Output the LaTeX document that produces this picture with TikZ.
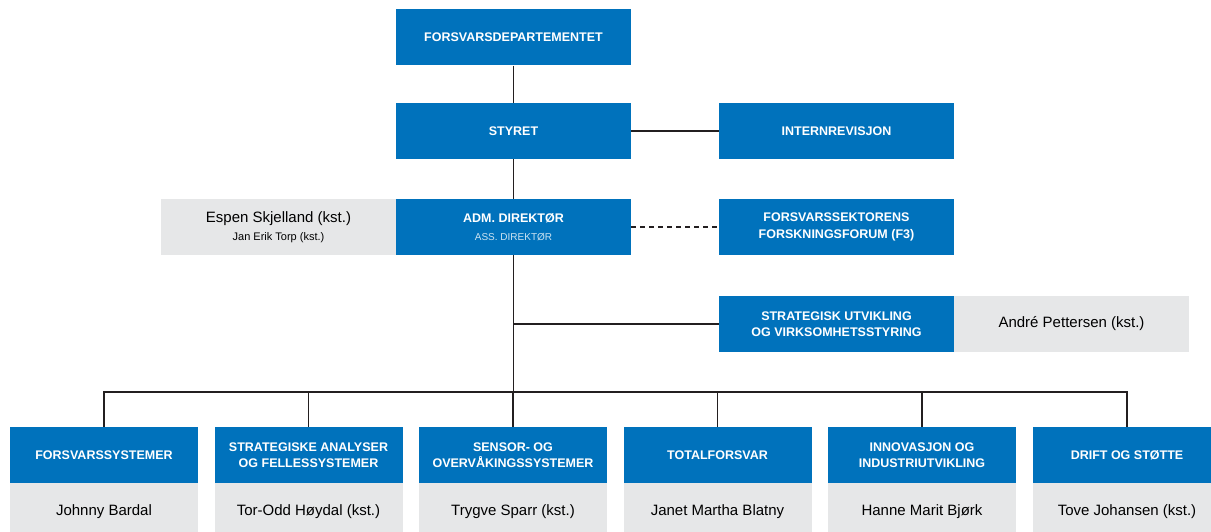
\documentclass[tikz,border=0pt]{standalone}
\usepackage{fontspec}
\setmainfont{Liberation Sans}
\definecolor{fblue}{RGB}{0,114,188}
\definecolor{fgray}{RGB}{230,231,232}
\definecolor{fline}{RGB}{35,31,32}
\begin{document}
\begin{tikzpicture}[x=1pt,y=-1pt,
  bluebox/.style={fill=fblue,draw=none,text=white,minimum height=56pt,inner sep=0pt,align=center,font=\fontsize{12.5}{16.5}\selectfont\bfseries},
  graybox/.style={fill=fgray,draw=none,text=black,minimum height=56pt,inner sep=0pt,align=center,font=\fontsize{15}{18}\selectfont},
  big/.style={minimum width=235pt},
  small/.style={minimum width=188pt},
  conn/.style={draw=fline,line width=1.4pt}]
\useasboundingbox (0,0) rectangle (1211,532);
\begin{scope}
\clip (0,0) rectangle (1211,532);
\node[bluebox,big] (fd) at (513.5,37.5) {FORSVARSDEPARTEMENTET};
\node[bluebox,big] (sty) at (513.5,131) {STYRET};
\node[bluebox,big] (int) at (836.5,131) {INTERNREVISJON};
\node[bluebox,big] (adm) at (513.5,227) {ADM. DIREKTØR\\[1pt]{\fontsize{10}{12}\selectfont\mdseries\color{white!80!fblue}ASS. DIREKTØR}};
\node[graybox,big] (esp) at (278.5,227) {Espen Skjelland (kst.)\\[0pt]{\fontsize{11}{13}\selectfont Jan Erik Torp (kst.)}};
\node[bluebox,big] (f3) at (836.5,227) {FORSVARSSEKTORENS\\FORSKNINGSFORUM (F3)};
\node[bluebox,big] (str) at (836.5,324) {STRATEGISK UTVIKLING\\OG VIRKSOMHETSSTYRING};
\node[graybox,big] (andre) at (1071.5,324) {André Pettersen (kst.)};
\coordinate (bus) at (513.5,392);
\coordinate (strj) at (513.5,324);
\node[bluebox,small] (b1) at (104,455) {FORSVARSSYSTEMER};
\node[bluebox,small] (b2) at (308.5,455) {STRATEGISKE ANALYSER\\OG FELLESSYSTEMER};
\node[bluebox,small] (b3) at (513,455) {SENSOR- OG\\OVERVÅKINGSSYSTEMER};
\node[bluebox,small] (b4) at (717.5,455) {TOTALFORSVAR};
\node[bluebox,small] (b5) at (922,455) {INNOVASJON OG\\INDUSTRIUTVIKLING};
\node[bluebox,small] (b6) at (1127,455) {DRIFT OG STØTTE};
\node[graybox,small,anchor=north] (g1) at (b1.south) {Johnny Bardal};
\node[graybox,small,anchor=north] (g2) at (b2.south) {Tor-Odd Høydal (kst.)};
\node[graybox,small,anchor=north] (g3) at (b3.south) {Trygve Sparr (kst.)};
\node[graybox,small,anchor=north] (g4) at (b4.south) {Janet Martha Blatny};
\node[graybox,small,anchor=north] (g5) at (b5.south) {Hanne Marit Bjørk};
\node[graybox,small,anchor=north] (g6) at (b6.south) {Tove Johansen (kst.)};
\draw[conn] (fd.south) -- (sty.north);
\draw[conn] (sty.east) -- (int.west);
\draw[conn] (sty.south) -- (adm.north);
\draw[conn,dash pattern=on 5pt off 4pt] (adm.east) -- (f3.west);
\draw[conn] (adm.south) -- (bus);
\draw[conn] (strj) -- (str.west);
\draw[conn] (b1.north) |- (bus) -| (b6.north);
\draw[conn] (b2.north) -- (b2.north |- bus);
\draw[conn] (b3.north) -- (b3.north |- bus);
\draw[conn] (b4.north) -- (b4.north |- bus);
\draw[conn] (b5.north) -- (b5.north |- bus);
\end{scope}
\end{tikzpicture}
\end{document}
